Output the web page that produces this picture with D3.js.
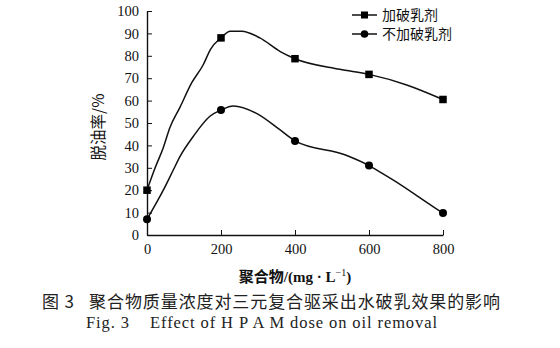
<!DOCTYPE html>
<html><head><meta charset="utf-8">
<script src="https://cdn.jsdelivr.net/npm/d3@7"></script>
<style>body{margin:0;background:#fff}svg{display:block}text{white-space:pre}</style>
</head><body>
<svg id="c" width="560" height="348"></svg>
<script>
// Data
const doses = [0, 200, 400, 600, 800];
const withBreaker = [20, 88, 78.7, 71.7, 60.5];
const withoutBreaker = [7, 55.8, 42, 31, 9.8];
// Smooth curve traces [dose, %]
const traceWith = [[0,20],[22,30],[44,39],[62,48],[89,57],[121,68],[152,76],[172,83],[200,88],[225,91],[256,91],[305,88],[359,82],[400,78.7],[521,74],[600,71.7],[702,67],[800,60.5]];
const traceWithout = [[0,7],[44,20],[71,29],[89,35],[125,44],[170,53],[200,55.8],[233,57.6],[296,54.3],[359,47],[400,42],[540,35.5],[600,31],[621,29],[666,24.5],[774,12.6],[800,9.8]];
const xTicks = [0, 200, 400, 600, 800];
const yTicks = [0,10,20,30,40,50,60,70,80,90,100];
const seriesNames = ["加破乳剂", "不加破乳剂"];

const svg = d3.select("#c");
const x = d3.scaleLinear().domain([0, 800]).range([147, 443]);
const y = d3.scaleLinear().domain([0, 100]).range([235, 11]);
const serif = "'Liberation Serif','Times New Roman',serif";
const cjk = "'Noto Sans CJK SC',sans-serif";

// axes
const gx = svg.append("g").attr("transform", `translate(0,${y(0)})`)
  .call(d3.axisBottom(x).tickValues(xTicks).tickSizeInner(-5).tickSizeOuter(0).tickPadding(9));
const gy = svg.append("g").attr("transform", `translate(${x(0)},0)`)
  .call(d3.axisLeft(y).tickValues(yTicks).tickSizeInner(-5).tickSizeOuter(0).tickPadding(8));
[gx, gy].forEach(g => {
  g.selectAll("path").attr("stroke", "#111").attr("stroke-width", 1.4);
  g.selectAll("line").attr("stroke", "#111").attr("stroke-width", 1);
  g.selectAll("text").attr("font-family", serif).attr("font-size", 14.5).attr("fill", "#111");
});
gx.selectAll(".tick").filter(d => d === 0).select("line").remove();

const line = d3.line().x(d => x(d[0])).y(d => y(d[1])).curve(d3.curveMonotoneX);
svg.append("path").datum(traceWith).attr("d", line).attr("fill", "none").attr("stroke", "#111").attr("stroke-width", 1.5);
svg.append("path").datum(traceWithout).attr("d", line).attr("fill", "none").attr("stroke", "#111").attr("stroke-width", 1.5);

const s = 7.5;
svg.append("g").selectAll("rect").data(doses).join("rect")
  .attr("x", (d) => x(d) - s/2).attr("y", (d, i) => y(withBreaker[i]) - s/2)
  .attr("width", s).attr("height", s).attr("fill", "#000");
svg.append("g").selectAll("circle").data(doses).join("circle")
  .attr("cx", d => x(d)).attr("cy", (d, i) => y(withoutBreaker[i])).attr("r", 4).attr("fill", "#000");

// legend
const lg = svg.append("g");
[15, 34].forEach((ly, i) => {
  lg.append("line").attr("x1", 352).attr("x2", 377).attr("y1", ly).attr("y2", ly).attr("stroke", "#111").attr("stroke-width", 1.5);
  if (i === 0) lg.append("rect").attr("x", 364.5 - 3.5).attr("y", ly - 3.5).attr("width", 7).attr("height", 7).attr("fill", "#000");
  else lg.append("circle").attr("cx", 364.5).attr("cy", ly).attr("r", 3.8).attr("fill", "#000");
  lg.append("text").attr("x", 382).attr("y", ly).attr("dy", "0.36em").attr("font-family", cjk).attr("font-size", 14).attr("fill", "#111").text(seriesNames[i]);
});

// y title
svg.append("text").attr("transform", "translate(98,127) rotate(-90)").attr("text-anchor", "middle").attr("dy", "0.36em")
  .attr("font-family", cjk).attr("font-size", 15.5).attr("fill", "#111").text("脱油率/%");

// x title
const xt = svg.append("text").attr("x", 295).attr("y", 277).attr("text-anchor", "middle").attr("dy", "0.36em").attr("fill", "#111").attr("font-size", 15);
xt.append("tspan").attr("font-family", cjk).attr("font-weight", "bold").text("聚合物");
xt.append("tspan").attr("font-family", serif).attr("font-weight", "bold").text("/(mg · L");
xt.append("tspan").attr("font-family", serif).attr("font-size", 10).attr("dy", "-0.6em").text("−1");
xt.append("tspan").attr("font-family", serif).attr("font-weight", "bold").attr("dy", "0.35em").text(")");

// captions
svg.append("text").attr("x", 42).attr("y", 302).attr("dy", "0.36em").attr("font-family", cjk).attr("font-size", 17).attr("fill", "#222")
  .attr("textLength", 458).attr("lengthAdjust", "spacing").text("图 3   聚合物质量浓度对三元复合驱采出水破乳效果的影响");
svg.append("text").attr("x", 86).attr("y", 322).attr("dy", "0.36em").attr("font-family", serif).attr("font-size", 16.5).attr("fill", "#222")
  .attr("textLength", 351).attr("lengthAdjust", "spacing").text("Fig. 3    Effect of H P A M dose on oil removal");
</script>
</body></html>
